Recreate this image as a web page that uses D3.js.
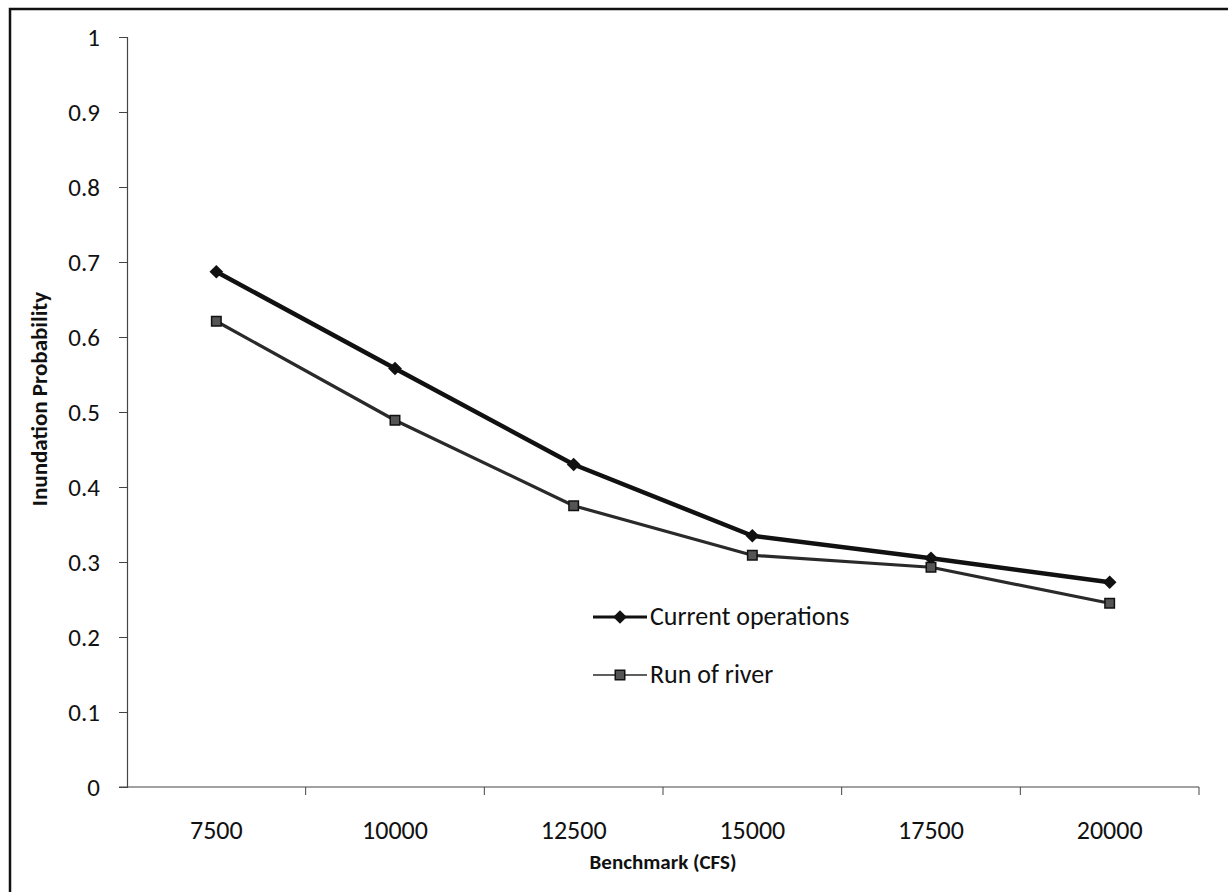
<!DOCTYPE html>
<html>
<head>
<meta charset="utf-8">
<script src="https://cdn.jsdelivr.net/npm/d3@7"></script>
<style>
  body { margin: 0; background: #fff; }
  svg { display: block; font-family: Carlito, Calibri, Lato, "Open Sans", sans-serif; }
</style>
</head>
<body>
<script>
'use strict';

(function() {

    var width = 1228,
        height = 892;

    // chart values
    var benchmarks = ["7500", "10000", "12500", "15000", "17500", "20000"];
    var currentOps = [0.687, 0.558, 0.430, 0.335, 0.305, 0.273];
    var runOfRiver = [0.621, 0.489, 0.375, 0.309, 0.293, 0.245];
    var yTicks = [0, 0.1, 0.2, 0.3, 0.4, 0.5, 0.6, 0.7, 0.8, 0.9, 1];

    var margin = { left: 127, right: 29, top: 37, bottom: 105 };

    var svg = d3.select("body")
        .append("svg")
        .attr("width", width)
        .attr("height", height);

    // outer frame (runs off the right and bottom of the picture)
    svg.append("rect")
        .attr("x", 10).attr("y", 9)
        .attr("width", width + 20).attr("height", height + 20)
        .attr("fill", "none")
        .attr("stroke", "#111")
        .attr("stroke-width", 2.5);

    var x = d3.scaleBand()
        .domain(benchmarks)
        .range([margin.left, width - margin.right]);

    var y = d3.scaleLinear()
        .domain([0, 1])
        .range([height - margin.bottom, margin.top]);

    // y axis
    var yAxis = svg.append("g")
        .attr("transform", "translate(" + margin.left + ",0)")
        .call(d3.axisLeft(y).tickValues(yTicks).tickFormat(d3.format("")).tickSize(8).tickPadding(19));
    yAxis.attr("font-family", null).attr("font-size", null);
    yAxis.select(".domain").attr("stroke", "#444").attr("stroke-width", 1.2);
    yAxis.selectAll(".tick line").attr("stroke", "#444");
    yAxis.selectAll("text")
        .attr("font-size", 25)
        .attr("fill", "#111");

    // x axis: ticks sit between categories, Excel style
    var xAxisG = svg.append("g")
        .attr("transform", "translate(0," + y(0) + ")");
    xAxisG.append("line")
        .attr("x1", margin.left - 8).attr("x2", width - margin.right)
        .attr("stroke", "#444").attr("stroke-width", 1.2);
    var bounds = benchmarks.map(function(d) { return x(d); }).concat([width - margin.right]);
    xAxisG.selectAll(".xtick")
        .data(bounds.slice(1))
        .enter()
        .append("line")
        .attr("x1", function(d) { return d; })
        .attr("x2", function(d) { return d; })
        .attr("y1", 0).attr("y2", 8)
        .attr("stroke", "#444");
    xAxisG.selectAll(".xlabel")
        .data(benchmarks)
        .enter()
        .append("text")
        .attr("x", function(d) { return x(d) + x.bandwidth() / 2; })
        .attr("y", 52)
        .attr("text-anchor", "middle")
        .attr("font-size", 26)
        .attr("fill", "#111")
        .text(function(d) { return d; });

    // axis titles
    svg.append("text")
        .attr("x", (margin.left + width - margin.right) / 2)
        .attr("y", 869)
        .attr("text-anchor", "middle")
        .attr("font-size", 21)
        .attr("font-weight", "bold")
        .attr("fill", "#111")
        .text("Benchmark (CFS)");

    svg.append("text")
        .attr("transform", "translate(47,399) rotate(-90)")
        .attr("text-anchor", "middle")
        .attr("font-size", 23)
        .attr("font-weight", "bold")
        .attr("fill", "#111")
        .text("Inundation Probability");

    var cx = function(d, i) { return x(benchmarks[i]) + x.bandwidth() / 2; };
    var line = d3.line()
        .x(cx)
        .y(function(d) { return y(d); });

    var series = [
        { name: "Current operations", values: currentOps, color: "#111", width: 4.5, marker: "diamond" },
        { name: "Run of river", values: runOfRiver, color: "#2a2a2a", width: 3.2, marker: "square" }
    ];

    var diamond = d3.symbol().type(d3.symbolDiamond2).size(120);
    var square = d3.symbol().type(d3.symbolSquare).size(90);

    series.forEach(function(s) {
        svg.append("path")
            .datum(s.values)
            .attr("d", line)
            .attr("fill", "none")
            .attr("stroke", s.color)
            .attr("stroke-width", s.width)
            .attr("stroke-linejoin", "round");

        svg.selectAll(".m-" + s.marker)
            .data(s.values)
            .enter()
            .append("path")
            .attr("class", "m-" + s.marker)
            .attr("transform", function(d, i) { return "translate(" + cx(d, i) + "," + y(d) + ")"; })
            .attr("d", s.marker === "diamond" ? diamond : square)
            .attr("fill", s.marker === "diamond" ? "#111" : "#555")
            .attr("stroke", "#111")
            .attr("stroke-width", s.marker === "diamond" ? 0 : 1.5);
    });

    // legend
    var legend = svg.append("g").attr("transform", "translate(593,617)");
    series.forEach(function(s, i) {
        var g = legend.append("g").attr("transform", "translate(0," + (i * 58) + ")");
        g.append("line")
            .attr("x1", 0).attr("x2", 54)
            .attr("stroke", s.color)
            .attr("stroke-width", s.width - 1.5);
        g.append("path")
            .attr("transform", "translate(27,0)")
            .attr("d", s.marker === "diamond" ? diamond : square)
            .attr("fill", s.marker === "diamond" ? "#111" : "#555")
            .attr("stroke", "#111")
            .attr("stroke-width", s.marker === "diamond" ? 0 : 1.5);
        g.append("text")
            .attr("x", 57)
            .attr("y", 8)
            .attr("font-size", 26)
            .attr("fill", "#111")
            .text(s.name);
    });
})();
</script>
</body>
</html>
